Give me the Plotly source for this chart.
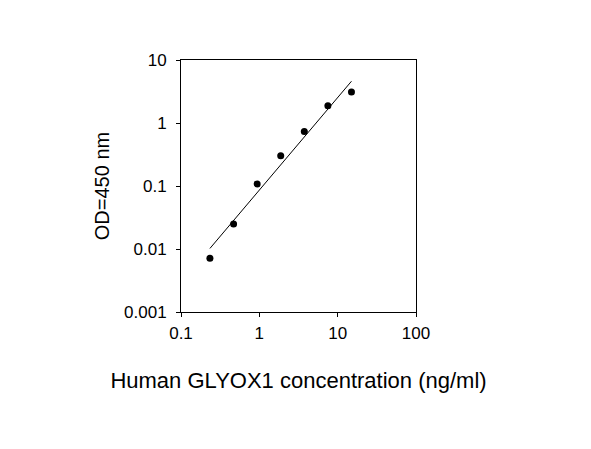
import plotly.graph_objects as go

# standard curve: concentration (ng/ml) vs OD450
conc = [0.234, 0.469, 0.938, 1.875, 3.75, 7.5, 15]
od = [0.0071, 0.0249, 0.108, 0.303, 0.736, 1.88, 3.1]

# fitted line end points
fit_x = [0.234, 15]
fit_y = [0.0102, 4.6]

x_ticks = [0.1, 1, 10, 100]
x_labels = ["0.1", "1", "10", "100"]
y_ticks = [0.001, 0.01, 0.1, 1, 10]
y_labels = ["0.001", "0.01", "0.1", "1", "10"]

font = "Liberation Sans, Arial, sans-serif"

fig = go.Figure()
fig.add_trace(go.Scatter(
    x=fit_x, y=fit_y, mode="lines",
    line=dict(color="black", width=1),
))
fig.add_trace(go.Scatter(
    x=conc, y=od, mode="markers",
    marker=dict(color="black", size=7),
))

axis_common = dict(
    type="log", showgrid=False, zeroline=False,
    showline=True, linecolor="black", linewidth=1, mirror=True,
    ticks="outside", ticklen=4, tickcolor="black", tickwidth=1,
    tickfont=dict(family=font, size=17, color="black"),
)

fig.update_xaxes(
    range=[-1, 2], tickvals=x_ticks, ticktext=x_labels,
    ticklabelstandoff=2,
    title=dict(text="Human GLYOX1 concentration (ng/ml)",
               font=dict(family=font, size=22, color="black"), standoff=30),
    **axis_common,
)
fig.update_yaxes(
    range=[-3, 1], tickvals=y_ticks, ticktext=y_labels,
    ticklabelstandoff=6,
    title=dict(text="OD=450 nm",
               font=dict(family=font, size=20, color="black"), standoff=9),
    **axis_common,
)
fig.update_layout(
    width=591, height=449,
    margin=dict(l=173, r=183, t=52, b=145),
    plot_bgcolor="white", paper_bgcolor="white",
    showlegend=False,
)
fig.write_html("out.html")
